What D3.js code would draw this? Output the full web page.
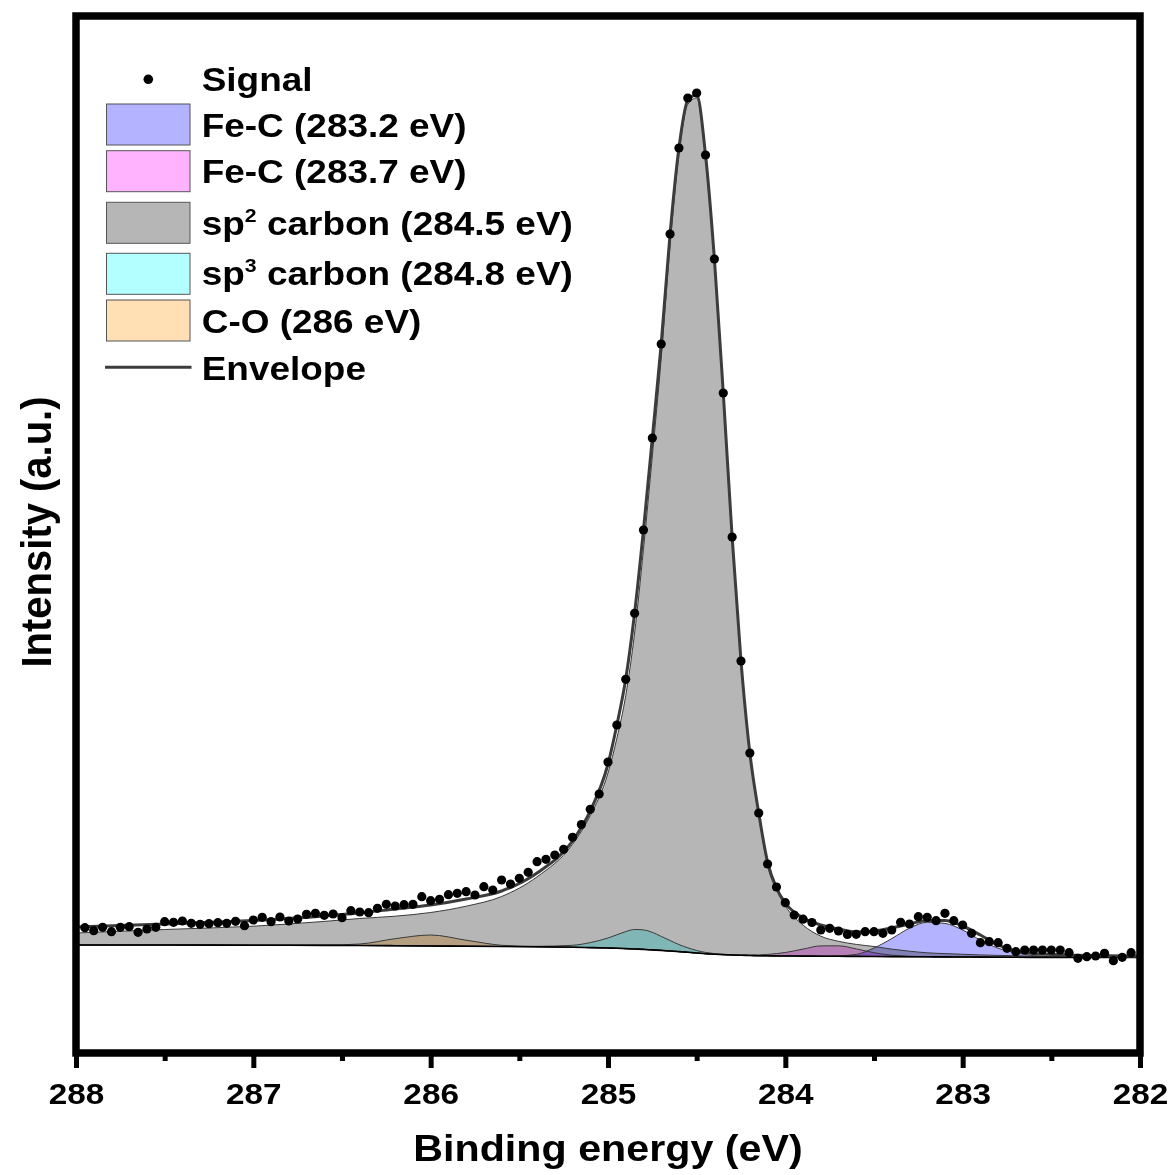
<!DOCTYPE html>
<html><head><meta charset="utf-8">
<script src="https://cdn.jsdelivr.net/npm/d3@7"></script>
<style>
body{margin:0;background:#fff}
svg{display:block}
text{font-family:"Liberation Sans",Arial,sans-serif;font-weight:bold;fill:#000}
</style>
</head><body>
<svg id="chart" width="1171" height="1175"></svg>
<script>
// ---------- data (binding energy in eV, intensity in a.u.) ----------
const signalEnergy = [287.95,287.9,287.85,287.8,287.75,287.7,287.65,287.6,287.55,287.5,287.45,287.4,287.35,287.3,287.25,287.2,287.15,287.1,287.05,287,
286.95,286.9,286.85,286.8,286.75,286.7,286.65,286.6,286.55,286.5,286.45,286.4,286.35,286.3,286.25,286.2,286.15,286.1,286.05,286,
285.95,285.9,285.85,285.8,285.75,285.7,285.65,285.6,285.55,285.5,285.45,285.4,285.35,285.3,285.25,285.2,285.15,285.1,285.05,285,
284.95,284.9,284.85,284.8,284.75,284.7,284.65,284.6,284.55,284.5,284.45,284.4,284.35,284.3,284.25,284.2,284.15,284.1,284.05,284,
283.95,283.9,283.85,283.8,283.75,283.7,283.65,283.6,283.55,283.5,283.45,283.4,283.35,283.3,283.25,283.2,283.15,283.1,283.05,283,
282.95,282.9,282.85,282.8,282.75,282.7,282.65,282.6,282.55,282.5,282.45,282.4,282.35,282.3,282.25,282.2,282.15,282.1,282.05];
const signalIntensity = [125.3,122.3,125.7,121.3,125.7,126.3,120.7,124,125.7,131.3,130.7,132,129.7,128.7,129.3,130.3,129.7,131.7,127.3,133,
135.7,131.3,136,132,134,138.7,139.7,137.7,139,135.3,142.3,141,140.3,144.7,148.7,147,148.3,148.7,156.3,152.3,
153.7,158.3,159.7,161.3,158,166.3,163,173,169,174.7,180.7,191.3,193.7,198,203.7,215.7,228.5,243.7,259,291,
328,373.7,439.7,523,615,709,819,905,955,960,898,794,660,516,392,300,240,189,166,150.3,
138,133.8,130.5,123,124.7,122,118.5,118.7,121.3,121.3,119.7,123,130.7,129,136.3,135.7,132.3,139.7,132.3,128,
119.7,110.3,111.3,110.3,104.7,101.3,103,103,103,103,103,100.3,94.7,96.3,97,99.7,92.3,95.7,100.3];

const fitEnergy = [288,287.5,287,286.6,286.4,286.2,286,285.8,285.6,285.4,285.2,285.1,285,284.95,284.9,284.85,284.8,284.75,284.7,284.65,
284.6,284.55,284.5,284.45,284.4,284.35,284.3,284.25,284.2,284.15,284.1,284.05,284,283.9,283.8,283.7,283.6,283.5,283.4,283.3,
283.2,283.1,283,282.9,282.8,282.7,282.6,282.4,282];
const background = [108,108,107.8,107.6,107.5,107.3,107,106.8,106.5,106.2,105.7,105.4,105,104.7,104.4,104,103.6,103.1,102.6,102,
101.4,100.7,100,99.3,98.8,98.4,98,97.7,97.5,97.3,97.2,97.1,97,96.9,96.8,96.7,96.6,96.5,96.4,96.3,
96.2,96.1,96,95.9,95.8,95.7,95.6,95.5,95.5];
const feC2832 = [0,0,0,0,0,0,0,0,0,0,0,0,0,0,0,0,0,0,0,0,
0,0,0,0,0,0,0,0,0,0,0,0,0,0,0,0.5,2,8.5,18,28.5,
34.5,33.5,27,17,9,4.5,1.8,0.3,0];
const feC2837 = [0,0,0,0,0,0,0,0,0,0,0,0,0,0,0,0,0,0,0,0,
0,0,0,0,0,0,0.1,0.2,0.4,0.8,1.4,2.3,3.5,7,10.3,10.5,7.5,3.8,1.4,0.4,
0.1,0,0,0,0,0,0,0,0];
const sp2Carbon = [12,15.5,19,24,27,29.5,33.5,40,50,70,103,132,175,210,253,316,400,494,592,706,
797,848,855,797,695,561,418,294,202,141,90,66,50,31,20,15,12,10,7.5,5.5,
4,3.3,2.7,2.2,1.8,1.5,1.2,0.8,0.4];
const sp3Carbon = [0,0,0,0,0,0,0,0,0,0.5,2,5,10,13.5,17,19.5,19.5,17.5,14,10.5,
7,4.5,2.5,1.3,0.6,0.2,0,0,0,0,0,0,0,0,0,0,0,0,0,0,
0,0,0,0,0,0,0,0,0];
const cO = [0,0,0,0.3,1.5,7,11,6,1.2,0.1,0,0,0,0,0,0,0,0,0,0,
0,0,0,0,0,0,0,0,0,0,0,0,0,0,0,0,0,0,0,0,
0,0,0,0,0,0,0,0,0];
const envelope = [126,129,132.5,137,140,144,148,154,162,180,212,242,289,328,374,440,523,615,709,819,
905,953,958,898,794,660,516,392,300,240,191,165,150,135,128,124,121,122,125,129,
132.5,132.5,127,118,108,102,99.5,98,97];

const legendLabels = ["Signal","Fe-C (283.2 eV)","Fe-C (283.7 eV)","sp2 carbon (284.5 eV)","sp3 carbon (284.8 eV)","C-O (286 eV)","Envelope"];
const xTicks = [288,287,286,285,284,283,282];
const xMinorTicks = [287.5,286.5,285.5,284.5,283.5,282.5];
const xTitle = "Binding energy (eV)";
const yTitle = "Intensity (a.u.)";

// ---------- layout ----------
const svg = d3.select("#chart");
svg.append("rect").attr("width",1171).attr("height",1175).attr("fill","#fff");
const L = 76, R = 1140, T = 16, B = 1053;
const x = d3.scaleLinear().domain([288,282]).range([L,R]);
const y = d3.scaleLinear().domain([0,1037]).range([B,T]);

svg.append("clipPath").attr("id","clip").append("rect")
  .attr("x",L).attr("y",T).attr("width",R-L).attr("height",B-T);
const plot = svg.append("g").attr("clip-path","url(#clip)");

const comps = [
  {vals: sp2Carbon, fill:"#b6b6b6"},
  {vals: cO, fill:"#ffdfb3"},
  {vals: sp3Carbon, fill:"#b3ffff"},
  {vals: feC2837, fill:"#ffb3ff"},
  {vals: feC2832, fill:"#b3b3ff"}
];
const fillG = plot.append("g").style("isolation","isolate");
comps.forEach(c => {
  const area = d3.area()
    .x((d,i)=>x(fitEnergy[i]))
    .y0((d,i)=>y(background[i]))
    .y1((d,i)=>y(background[i]+d))
    .curve(d3.curveMonotoneX);
  fillG.append("path").datum(c.vals).attr("d",area)
    .attr("fill",c.fill).style("mix-blend-mode","multiply");
});
comps.forEach(c => {
  const line = d3.line()
    .x((d,i)=>x(fitEnergy[i]))
    .y((d,i)=>y(background[i]+d))
    .curve(d3.curveMonotoneX);
  plot.append("path").datum(c.vals).attr("d",line)
    .attr("fill","none").attr("stroke","#3a3a3a").attr("stroke-width",1);
});
// background line
plot.append("path").datum(background)
  .attr("d", d3.line().x((d,i)=>x(fitEnergy[i])).y(d=>y(d)).curve(d3.curveMonotoneX))
  .attr("fill","none").attr("stroke","#000").attr("stroke-width",1.6);
// envelope
plot.append("path").datum(envelope)
  .attr("d", d3.line().x((d,i)=>x(fitEnergy[i])).y(d=>y(d)).curve(d3.curveMonotoneX))
  .attr("fill","none").attr("stroke","#3c3c3c").attr("stroke-width",3);
// signal
plot.append("g").selectAll("circle").data(signalIntensity).join("circle")
  .attr("cx",(d,i)=>x(signalEnergy[i])).attr("cy",d=>y(d)).attr("r",4.6).attr("fill","#000");

// ---------- axes ----------
const xAxis = d3.axisBottom(x).tickValues(xTicks).tickSize(15).tickFormat(d3.format("d"));
const ax = svg.append("g").attr("transform",`translate(0,${B})`).call(xAxis);
ax.select(".domain").remove();
ax.selectAll(".tick line").attr("stroke","#000").attr("stroke-width",5);
ax.selectAll(".tick text").attr("y",51).attr("dy",0)
  .attr("font-size",29.5).attr("font-family","'Liberation Sans',Arial,sans-serif").attr("font-weight","bold")
  .attr("transform","scale(1.13,1)").attr("fill","#000");
const axMinor = d3.axisBottom(x).tickValues(xMinorTicks).tickSize(8).tickFormat("");
const am = svg.append("g").attr("transform",`translate(0,${B})`).call(axMinor);
am.select(".domain").remove();
am.selectAll(".tick line").attr("stroke","#000").attr("stroke-width",5);

// frame
svg.append("rect").attr("x",L).attr("y",T).attr("width",R-L).attr("height",B-T)
  .attr("fill","none").attr("stroke","#000").attr("stroke-width",7.5);

// titles
svg.append("text").attr("transform",`translate(${(L+R)/2},1161) scale(1.13,1)`)
  .attr("text-anchor","middle").attr("font-size",36.5).text(xTitle);
svg.append("text").attr("transform",`translate(51,532) scale(1.05,1) rotate(-90)`)
  .attr("text-anchor","middle").attr("font-size",40).text(yTitle);

// ---------- legend ----------
const lg = svg.append("g");
const tx = 201.7;
function legText(label, base){
  const t = lg.append("text").attr("transform",`translate(${tx},${base}) scale(1.12,1)`).attr("font-size",33);
  const m = label.match(/^(sp)(\d)( .*)$/);
  if(m){
    t.append("tspan").text(m[1]);
    t.append("tspan").attr("font-size",19).attr("dy",-13).text(m[2]);
    t.append("tspan").attr("dy",13).text(m[3]);
  } else t.text(label);
}
// signal
lg.append("circle").attr("cx",148.3).attr("cy",79.3).attr("r",4.8).attr("fill","#000");
legText(legendLabels[0], 90.7);
const swFills = ["#b3b3ff","#ffb3ff","#b6b6b6","#b3ffff","#ffdfb3"];
const swTops = [104,150.7,202.3,253.3,300];
const swBases = [137.3,183.3,235,285,332.7];
swFills.forEach((f,k)=>{
  lg.append("rect").attr("x",106.5).attr("y",swTops[k]).attr("width",83.5).attr("height",41)
    .attr("fill",f).attr("stroke","#555").attr("stroke-width",1);
  legText(legendLabels[k+1], swBases[k]);
});
lg.append("line").attr("x1",105).attr("x2",191.5).attr("y1",367.3).attr("y2",367.3)
  .attr("stroke","#3c3c3c").attr("stroke-width",3);
legText(legendLabels[6], 380);
</script>
</body></html>
